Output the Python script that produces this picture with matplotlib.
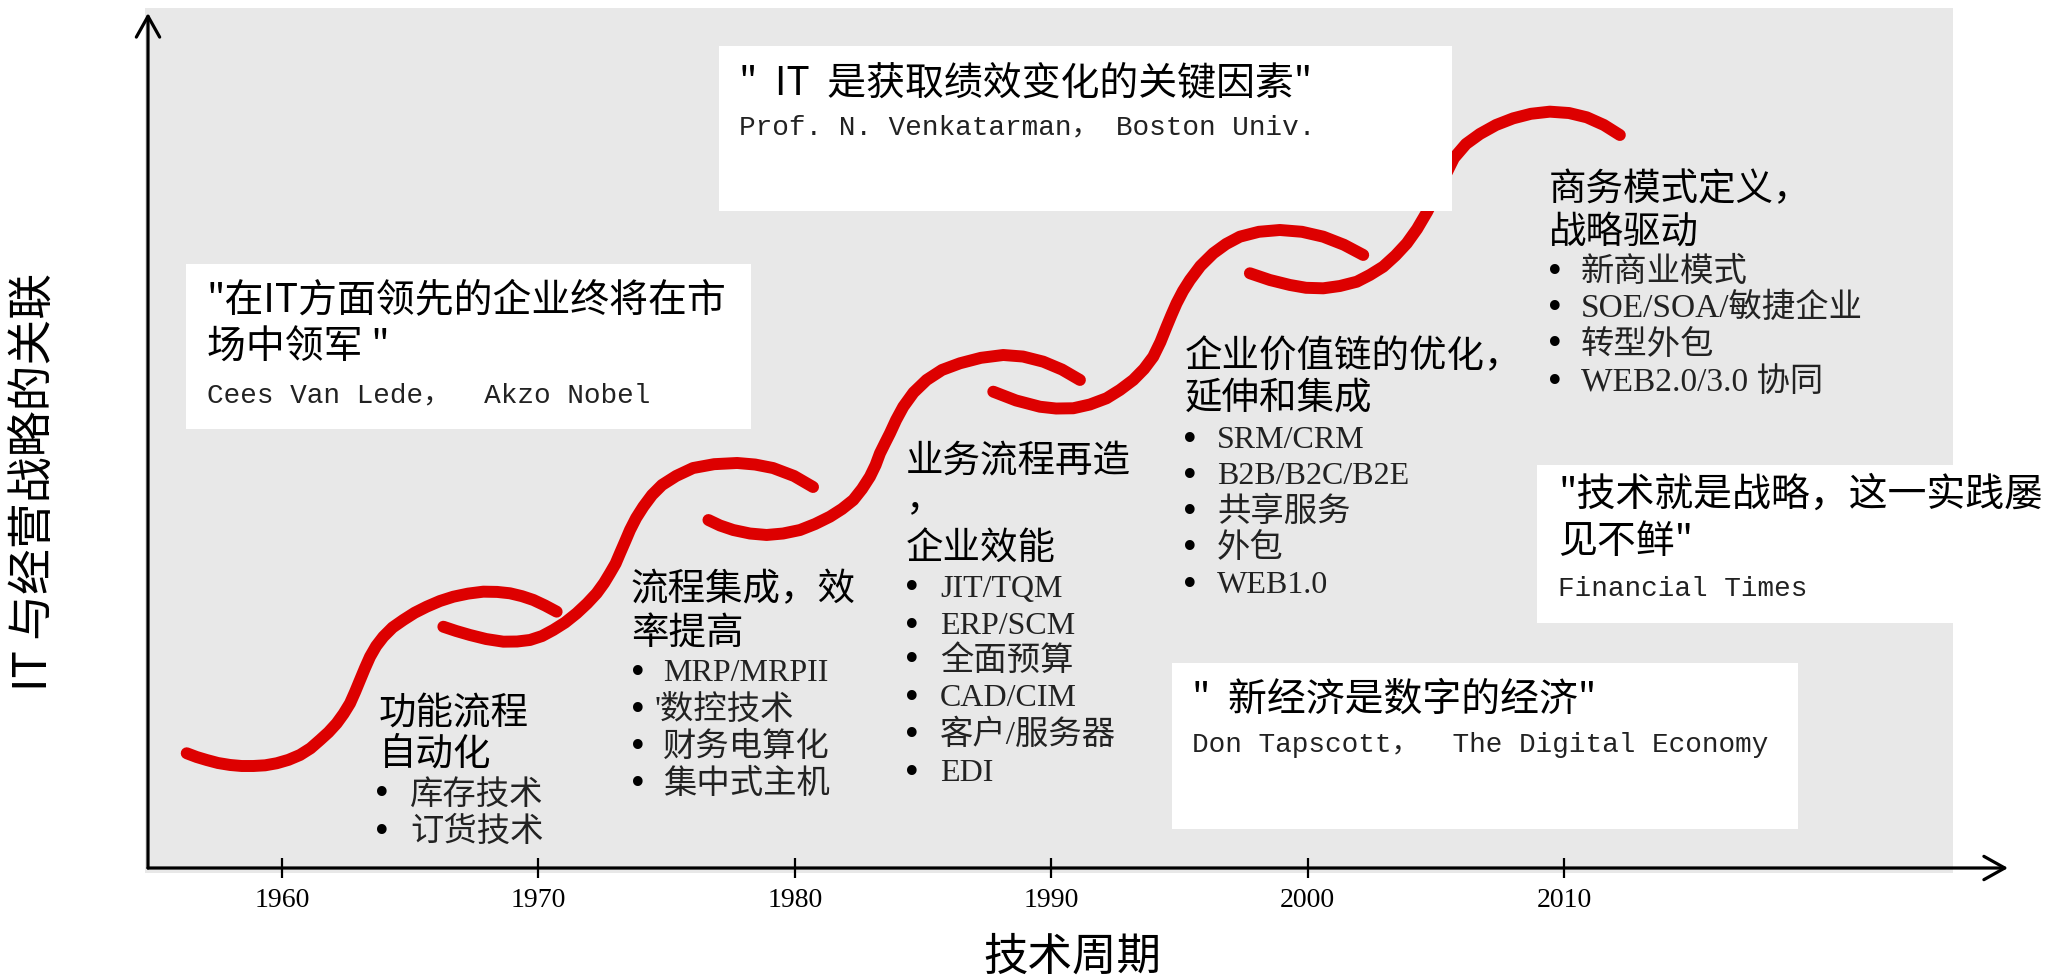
import matplotlib
matplotlib.use('Agg')
import matplotlib.pyplot as plt
from matplotlib.patches import Rectangle

plt.rcParams['font.family'] = ['Noto Sans CJK SC', 'DejaVu Sans']

W, H = 2056, 980

# 红色S形曲线, 五段 (年份, 关联程度 0-100)
seg_years = [
    [1956.28, 1956.67, 1957.06, 1957.50, 1957.97, 1958.42, 1958.88, 1959.34, 1959.79,
     1960.25, 1960.70, 1961.11, 1961.48, 1961.81, 1962.13, 1962.40, 1962.65, 1962.85,
     1963.04, 1963.23, 1963.43, 1963.67, 1963.95, 1964.31, 1964.73, 1965.17, 1965.64,
     1966.16, 1966.68, 1967.25, 1967.85, 1968.39, 1968.89, 1969.36, 1969.80, 1970.26,
     1970.71],
    [1966.29, 1966.79, 1967.33, 1967.96, 1968.63, 1969.17, 1969.67, 1970.14, 1970.58,
     1971.04, 1971.49, 1971.90, 1972.27, 1972.56, 1972.79, 1973.01, 1973.18, 1973.38,
     1973.57, 1973.81, 1974.09, 1974.43, 1974.82, 1975.37, 1976.03, 1976.85, 1977.75,
     1978.45, 1979.15, 1979.97, 1980.71],
    [1976.63, 1977.08, 1977.60, 1978.25, 1978.90, 1979.54, 1980.20, 1980.79, 1981.37,
     1981.84, 1982.28, 1982.62, 1982.93, 1983.15, 1983.32, 1983.52, 1983.71, 1983.95,
     1984.23, 1984.63, 1985.14, 1985.74, 1986.44, 1987.26, 1988.13, 1988.90, 1989.69,
     1990.42, 1991.12],
    [1987.74, 1988.63, 1989.56, 1990.19, 1990.86, 1991.51, 1992.16, 1992.68, 1993.20,
     1993.62, 1993.98, 1994.26, 1994.50, 1994.69, 1994.89, 1995.14, 1995.41, 1995.82,
     1996.32, 1996.82, 1997.36, 1998.10, 1998.92, 1999.78, 2000.61, 2001.42, 2002.17],
    [1997.75, 1998.53, 1999.31, 1999.94, 2000.61, 2001.26, 2001.92, 2002.43, 2002.95,
     2003.43, 2003.87, 2004.27, 2004.66, 2005.01, 2005.36, 2005.71, 2006.18, 2006.72,
     2007.35, 2008.02, 2008.71, 2009.45, 2010.20, 2010.89, 2011.56, 2012.18],
]
seg_values = [
    [13.42, 12.98, 12.63, 12.28, 12.05, 11.93, 11.93, 12.01, 12.25,
     12.65, 13.22, 14.00, 14.97, 15.87, 16.92, 18.04, 19.26, 20.61,
     21.99, 23.36, 24.71, 25.96, 27.05, 28.13, 29.01, 29.85, 30.56,
     31.23, 31.73, 32.09, 32.32, 32.29, 32.13, 31.79, 31.35, 30.70,
     29.98],
    [28.22, 27.72, 27.25, 26.78, 26.47, 26.49, 26.67, 27.13, 27.84,
     28.71, 29.79, 30.94, 32.13, 33.33, 34.47, 35.61, 36.81, 38.19,
     39.53, 40.94, 42.26, 43.63, 44.80, 45.85, 46.78, 47.23, 47.37,
     47.19, 46.78, 45.85, 44.56],
    [40.70, 40.06, 39.53, 39.12, 38.95, 39.12, 39.53, 40.23, 41.09,
     41.99, 43.04, 44.33, 45.77, 47.13, 48.50, 49.71, 50.84, 52.40,
     53.95, 55.61, 57.08, 58.25, 59.03, 59.67, 60.00, 59.82, 59.22,
     58.30, 57.08],
    [55.71, 54.68, 53.95, 53.74, 53.77, 54.21, 54.94, 55.91, 57.08,
     58.36, 59.80, 61.52, 63.31, 64.68, 66.05, 67.49, 68.77, 70.41,
     71.89, 72.98, 73.84, 74.41, 74.62, 74.41, 73.84, 72.89, 71.70],
    [69.56, 68.77, 68.19, 67.86, 67.80, 68.07, 68.57, 69.36, 70.33,
     71.64, 73.06, 74.74, 76.73, 78.83, 80.94, 83.04, 84.68, 85.85,
     86.90, 87.68, 88.21, 88.46, 88.30, 87.80, 86.90, 85.73],
]

tick_years = [1960, 1970, 1980, 1990, 2000, 2010]

x_label = '技术周期'
y_label = 'IT 与经营战略的关联'

# 引言框: 中文一行或两行 + 出处
quotes = [
    (['"  IT  是获取绩效变化的关键因素"'], 'Prof. N. Venkatarman， Boston Univ.'),
    (['"在IT方面领先的企业终将在市', '场中领军 "'], 'Cees Van Lede，  Akzo Nobel'),
    (['"  新经济是数字的经济"'], 'Don Tapscott，  The Digital Economy'),
    (['"技术就是战略，这一实践屡', '见不鲜"'], 'Financial Times'),
]

headings = [
    ['功能流程', '自动化'],
    ['流程集成，效', '率提高'],
    ['业务流程再造', '，', '企业效能'],
    ['企业价值链的优化，', '延伸和集成'],
    ['商务模式定义，', '战略驱动'],
]

bullets = [
    ['库存技术', '订货技术'],
    ['MRP/MRPII', "'数控技术", '财务电算化', '集中式主机'],
    ['JIT/TQM', 'ERP/SCM', '全面预算', 'CAD/CIM', '客户/服务器', 'EDI'],
    ['SRM/CRM', 'B2B/B2C/B2E', '共享服务', '外包', 'WEB1.0'],
    ['新商业模式', 'SOE/SOA/敏捷企业', '转型外包', 'WEB2.0/3.0 协同'],
]

fig = plt.figure(figsize=(W / 100, H / 100), dpi=100)
fig.patch.set_facecolor('white')


def fx(x):
    return x / W


def fy(y):
    return 1 - y / H


def box(x0, y0, x1, y1, color, z):
    fig.patches.append(Rectangle((fx(x0), fy(y1)), fx(x1 - x0), (y1 - y0) / H,
                                 transform=fig.transFigure, facecolor=color,
                                 edgecolor='none', zorder=z))


def put(x, y, s, size, color='black', family=None, **kw):
    kw.setdefault('ha', 'left')
    fig.text(fx(x), fy(y), s, fontsize=size, color=color, va='center',
             family=family, zorder=5, **kw)


# 灰色背景
box(145, 8, 1953, 873, '#e8e8e8', -1)

ax = fig.add_axes([fx(148), fy(868), fx(2008 - 148), (868 - 13) / H])
ax.patch.set_visible(False)
ax.set_xlim(1954.77, 2027.32)
ax.set_ylim(0, 100)
for sp in ax.spines.values():
    sp.set_visible(False)

for yrs, vals in zip(seg_years, seg_values):
    ax.plot(yrs, vals, color='#dd0000', lw=8.6, solid_capstyle='round',
            solid_joinstyle='round', zorder=2, clip_on=False)

arrow = dict(arrowstyle='->,head_length=0.75,head_width=0.42', lw=2.3,
             color='black', shrinkA=0, shrinkB=0, mutation_scale=20)
ax.annotate('', xy=(1, 0), xytext=(0, 0), xycoords='axes fraction',
            textcoords='axes fraction', arrowprops=arrow)
ax.annotate('', xy=(0, 1), xytext=(0, 0), xycoords='axes fraction',
            textcoords='axes fraction', arrowprops=arrow)

ax.set_xticks(tick_years)
ax.set_xticklabels([str(t) for t in tick_years], fontfamily='Liberation Serif')
ax.tick_params(axis='x', direction='inout', length=15, width=1.6,
               labelsize=20, pad=7)
ax.set_yticks([])

# 白色引言框
box(719, 46, 1452, 211, 'white', 1)
box(186, 264, 751, 429, 'white', 1)
box(1172, 663, 1798, 829, 'white', 1)
box(1537, 465, 1954, 623, 'white', 1)

quote_pos = [(739, [83], 127), (207, [300, 348], 395),
             (1192, [700], 745), (1558, [495, 542], 589)]
mono = ['Liberation Mono', 'Noto Sans CJK SC']
for (lines, src), (qx, qys, sy) in zip(quotes, quote_pos):
    for s, y in zip(lines, qys):
        put(qx, y, s, 28)
    put(qx, sy, src, 20, color='#222222', family=mono)

head_pos = [(379, [714, 754]), (631, [590, 633]), (906, [461, 500, 548]),
            (1185, [357, 398]), (1549, [190, 232])]
for lines, (hx, hys) in zip(headings, head_pos):
    for s, y in zip(lines, hys):
        put(hx, y, s, 27)

serif = ['Liberation Serif', 'Noto Sans CJK SC']
bullet_pos = [(382, 410, [795, 832]),
              (638, 663, [673, 710, 747, 784]),
              (912, 940, [589, 626, 661, 698, 735, 773]),
              (1190, 1217, [440, 477, 512, 548, 585]),
              (1555, 1581, [272, 308, 345, 382])]
for items, (dx, tx, ys) in zip(bullets, bullet_pos):
    for s, y in zip(items, ys):
        put(dx, y, '•', 24, family='DejaVu Sans', ha='center')
        if s.isascii():
            put(tx, y, s, 23, color='#222222', family='Liberation Serif')
        elif s.startswith("'"):
            put(tx - 8, y, s, 24, color='#222222', family=serif)
        else:
            put(tx, y, s, 24, color='#222222', family=serif)

put(1072, 957, x_label, 32, ha='center')
put(33, 482, y_label, 33, ha='center', rotation=90)

fig.savefig('out.png', dpi=100)
